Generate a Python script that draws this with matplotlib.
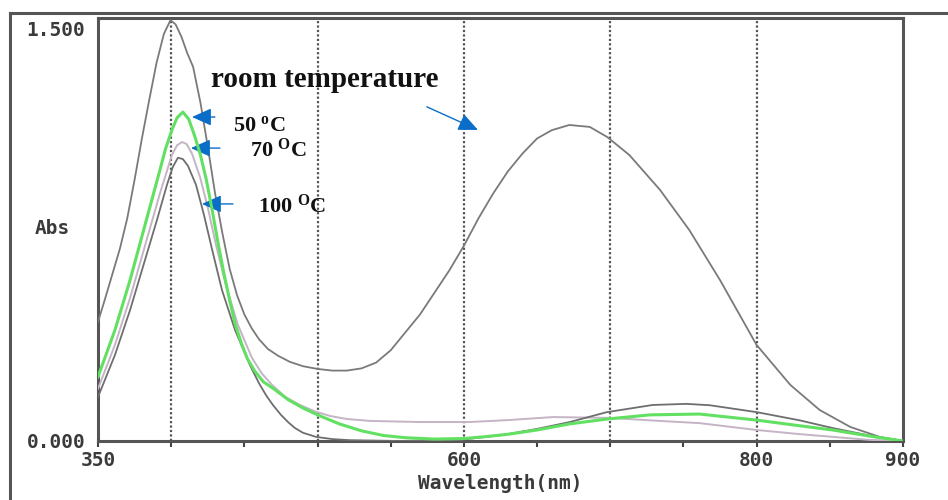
import numpy as np
import matplotlib
matplotlib.use("Agg")
import matplotlib.pyplot as plt
from matplotlib.lines import Line2D

plt.rcParams["mathtext.fontset"] = "custom"
plt.rcParams["mathtext.rm"] = "Liberation Serif:bold"
plt.rcParams["mathtext.it"] = "Liberation Serif:bold"

# ------------------------------------------------------------
# spectra (wavelength in nm, absorbance)
wl_room = [350, 355, 360, 365, 370, 375, 380, 385, 390, 395, 399.5, 403, 407,
           411, 415, 420, 425, 430, 435, 440, 445, 450, 455, 460, 466, 473,
           481, 490, 500, 510, 520, 530, 540, 550, 560, 570, 580, 590, 600,
           610, 620, 630, 640, 650, 660, 672, 686, 698, 713, 734, 754, 775,
           800, 823, 843, 864, 884, 900]
abs_room = [0.433, 0.52, 0.61, 0.70, 0.81, 0.95, 1.10, 1.24, 1.375, 1.48, 1.53, 1.515, 1.47,
            1.41, 1.36, 1.23, 1.07, 0.90, 0.755, 0.625, 0.53, 0.46, 0.41, 0.37, 0.335, 0.31,
            0.288, 0.272, 0.262, 0.256, 0.256, 0.264, 0.285, 0.33, 0.395, 0.46, 0.54, 0.62, 0.71,
            0.81, 0.90, 0.98, 1.045, 1.10, 1.13, 1.149, 1.142, 1.105, 1.04, 0.913, 0.767, 0.585,
            0.349, 0.204, 0.113, 0.051, 0.015, 0.0]

wl_50 = [350, 361.6, 371.9, 382.1, 392.3, 396, 400.5, 404, 408, 412, 416, 420,
         424, 428, 432, 436, 440, 444, 448, 452, 457, 463, 470, 480, 490, 500,
         515, 530, 545, 560, 580, 600, 615, 631, 650, 672, 698, 727, 761, 800,
         830, 852, 877, 900]
abs_50 = [0.233, 0.404, 0.585, 0.785, 0.985, 1.06, 1.131, 1.175, 1.196, 1.17, 1.11, 1.04,
          0.95, 0.84, 0.72, 0.61, 0.51, 0.42, 0.355, 0.30, 0.255, 0.215, 0.19, 0.15, 0.12, 0.095,
          0.062, 0.037, 0.02, 0.012, 0.007, 0.009, 0.016, 0.025, 0.04, 0.062, 0.08, 0.095, 0.098, 0.076,
          0.055, 0.04, 0.018, 0.0]

wl_70 = [350, 361.6, 371.9, 382.1, 392.3, 400.5, 404, 407.4, 410.5, 414.2, 419.7,
         425.1, 430.6, 437.4, 445.6, 455.2, 462, 468.9, 478, 488, 498, 508.5,
         520, 535.8, 570, 604, 630, 660.8, 699.7, 733.9, 761, 800, 829.5, 852,
         877, 900]
abs_70 = [0.19, 0.35, 0.52, 0.71, 0.90, 1.04, 1.075, 1.087, 1.08, 1.045, 0.96,
          0.847, 0.713, 0.567, 0.422, 0.302, 0.245, 0.204, 0.16, 0.131, 0.108, 0.091,
          0.08, 0.073, 0.069, 0.069, 0.076, 0.087, 0.084, 0.073, 0.065, 0.04, 0.025, 0.015,
          0.004, 0.0]

wl_100 = [350, 361.6, 371.9, 382.1, 390.3, 397.1, 401, 404.6, 408, 411.5, 417,
          422.4, 428, 434.7, 443.6, 453.8, 460, 465, 469.5, 475, 480, 484.6, 490,
          498.9, 510, 522, 556, 597, 626.6, 650, 672.4, 697.7, 729, 752, 768,
          800, 829.5, 852, 877, 900]
abs_100 = [0.16, 0.313, 0.476, 0.658, 0.804, 0.931, 0.995, 1.03, 1.025, 1.0, 0.931,
           0.822, 0.695, 0.549, 0.404, 0.276, 0.21, 0.165, 0.131, 0.095, 0.068, 0.047, 0.03,
           0.015, 0.007, 0.003, 0.0, 0.004, 0.022, 0.044, 0.069, 0.105, 0.131, 0.135, 0.13,
           0.105, 0.075, 0.047, 0.02, 0.0]

grid_wl = [400, 500, 600, 700, 800]
tick_wl = [350, 400, 450, 500, 550, 600, 650, 700, 750, 800, 850, 900]
label_wl = {350: "350", 600: "600", 800: "800", 900: "900"}

# ------------------------------------------------------------
fig = plt.figure(figsize=(9.48, 5.0), dpi=100)
ax = fig.add_axes([98 / 948, 1 - 441 / 500, (903 - 98) / 948, (441 - 18) / 500])

for w in grid_wl:
    ax.axvline(w, color="#555555", lw=1.6, ls=(0, (1, 1)), zorder=1)

ax.plot(wl_room, abs_room, color="#7a7a7a", lw=1.3, zorder=3)
ax.plot(wl_70, abs_70, color="#c4b4c6", lw=1.4, zorder=3)
ax.plot(wl_100, abs_100, color="#6e6e6e", lw=1.3, zorder=3)
ax.plot(wl_50, abs_50, color="#62e062", lw=2.2, zorder=4)

ax.set_xlim(350, 900)
ax.set_ylim(0, 1.538)

mono = dict(family="DejaVu Sans Mono", fontweight="bold", color="#3a3a3a", fontsize=14)
ax.set_xticks(tick_wl)
ax.set_xticklabels([label_wl.get(t, "") for t in tick_wl], **mono)
ax.set_yticks([0, 1.5])
ax.set_yticklabels(["0.000", "1.500"], **mono)
ax.tick_params(axis="x", direction="out", length=4, width=1.5, color="#444444", pad=3)
ax.tick_params(axis="y", length=0, pad=9)
for s in ax.spines.values():
    s.set_color("#555555")
    s.set_linewidth(2.2)

ax.set_xlabel("Wavelength(nm)", labelpad=3, **mono)
fig.text(52 / 948, 1 - 228 / 500, "Abs", ha="center", va="center", **mono)

# outer frame of the instrument window
fig.add_artist(Line2D([10 / 948, 10 / 948], [0, 1 - 13 / 500],
                      transform=fig.transFigure, color="#555555", lw=2.2))
fig.add_artist(Line2D([10 / 948, 1], [1 - 13 / 500, 1 - 13 / 500],
                      transform=fig.transFigure, color="#555555", lw=2.2))

# annotations
serif = dict(family="Liberation Serif", fontweight="bold", color="#111111")
blue = "#0a6ec8"
arr = dict(arrowstyle="-|>,head_length=0.85,head_width=0.38", color=blue, lw=1.0,
           shrinkA=0, shrinkB=0, mutation_scale=14)

ax.text(505, 1.313, "room temperature", ha="center", va="center", fontsize=21, **serif)
ax.annotate("", xy=(609.6, 1.131), xytext=(574.7, 1.215), arrowprops=arr)

ax.text(442.2, 1.145, "50 $^{\\mathrm{o}}$C", ha="left", va="center", fontsize=16, **serif)
ax.annotate("", xy=(414.2, 1.178), xytext=(429.9, 1.178), arrowprops=arr)

ax.text(453.8, 1.058, "70 $^{\\mathrm{O}}$C", ha="left", va="center", fontsize=16, **serif)
ax.annotate("", xy=(413.5, 1.065), xytext=(433.3, 1.065), arrowprops=arr)

ax.text(459.3, 0.855, "100 $^{\\mathrm{O}}$C", ha="left", va="center", fontsize=16, **serif)
ax.annotate("", xy=(421, 0.862), xytext=(442.2, 0.862), arrowprops=arr)

fig.savefig("out.png", dpi=100)
